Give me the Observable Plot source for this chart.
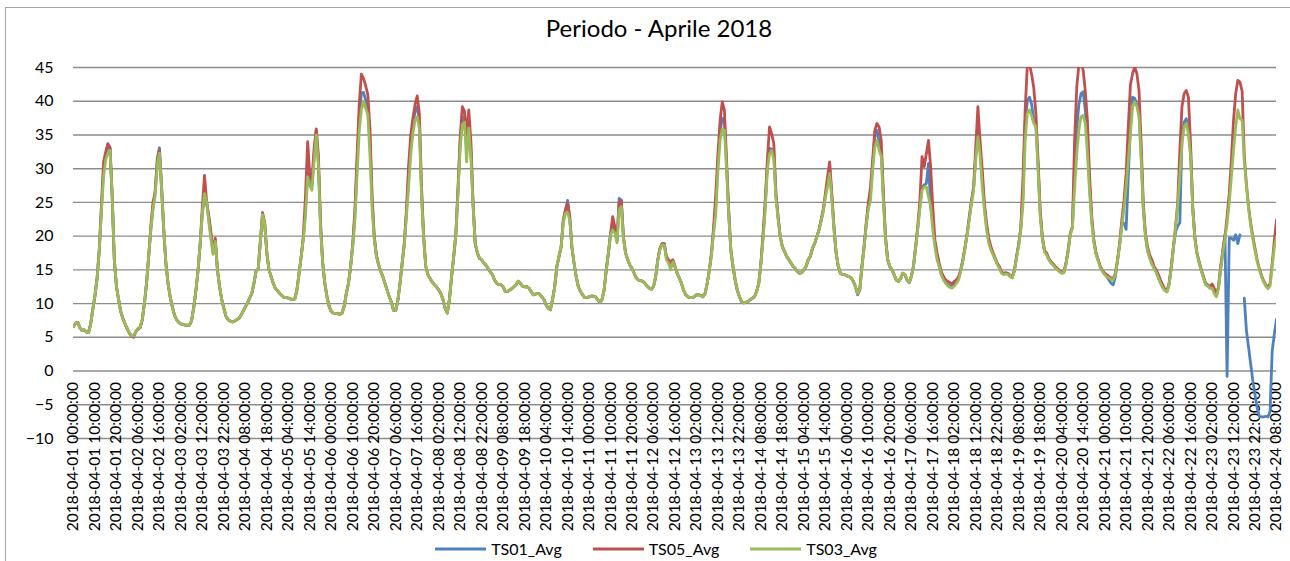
<!DOCTYPE html>
<html><head><meta charset="utf-8">
<script src="https://cdn.jsdelivr.net/npm/d3@7"></script>
<script src="https://cdn.jsdelivr.net/npm/@observablehq/plot@0.6"></script>
<style>
body{margin:0;background:#fff;font-family:Lato,"Open Sans",sans-serif;overflow:hidden;}
#frame{position:absolute;left:5px;top:7px;width:1300px;height:620px;border:1px solid #a6a6a6;box-sizing:border-box;}
#title{position:absolute;left:0;top:16px;width:1318px;text-align:center;font-size:24px;line-height:24px;color:#000;}
#chart{position:absolute;left:0;top:0;}
#legend{position:absolute;left:0;top:539px;width:1312px;display:flex;justify-content:center;gap:31px;font-size:16px;line-height:20px;color:#000;}
#legend .item{display:flex;align-items:center;gap:5px;}
</style></head>
<body>
<div id="frame"></div>
<div id="title">Periodo - Aprile 2018</div>
<div id="chart"></div>
<div id="legend"></div>
<script>
// hourly readings starting 2018-04-01 00:00:00 (UTC labels)
const startTime = "2018-04-01T00:00:00Z";
const seriesNames = ["TS01_Avg", "TS05_Avg", "TS03_Avg"];
const seriesColors = ["#4f81bd", "#c0504d", "#9bbb59"];
const yTicks = [-10, -5, 0, 5, 10, 15, 20, 25, 30, 35, 40, 45];

const TS05 = [
6.6,7.1,7.2,6.4,6.0,6.1,5.8,5.7,7.0,9.2,11.2,13.8,18.0,24.5,31.0,32.5,33.7,33.0,26.0,16.5,12.5,10.6,8.8,7.8,
7.0,6.3,5.6,5.2,5.0,5.8,6.2,6.4,7.6,10.0,13.0,17.0,21.5,25.0,26.5,31.0,32.8,27.0,21.0,16.0,13.0,11.0,9.5,8.3,
7.6,7.2,7.0,6.9,6.8,6.8,6.8,7.5,9.5,12.0,15.0,19.0,24.5,29.0,25.0,23.0,20.5,17.8,19.7,15.0,12.5,10.6,9.3,8.1,
7.6,7.4,7.3,7.4,7.6,7.8,8.3,8.9,9.5,10.1,10.8,11.5,13.0,14.8,15.2,19.4,23.5,22.0,17.5,15.0,14.0,13.0,12.2,11.9,
11.5,11.2,10.9,10.9,10.8,10.7,10.6,10.7,12.0,14.5,17.0,20.0,26.0,34.0,29.0,28.3,33.0,35.9,32.0,22.0,16.0,13.0,11.0,9.6,
8.8,8.6,8.5,8.5,8.4,8.6,9.6,11.5,13.0,15.5,18.9,24.0,32.0,39.5,44.0,43.4,42.3,41.0,36.0,26.0,20.0,17.2,15.8,14.8,
14.0,13.0,12.0,11.0,10.2,9.0,9.0,10.5,13.0,16.0,19.0,24.0,30.5,35.0,37.5,39.5,40.8,38.2,27.3,19.9,15.5,14.3,13.7,13.2,
12.8,12.5,12.0,11.5,10.6,9.3,8.6,10.6,14.0,17.0,20.4,27.3,34.7,39.2,38.5,35.0,38.7,34.0,24.9,18.9,17.5,16.7,16.5,16.0,
15.7,15.2,14.7,14.3,13.5,13.0,12.8,12.8,12.5,11.8,11.8,12.0,12.2,12.5,12.8,13.3,13.0,12.6,12.5,12.5,12.3,11.8,11.3,11.4,
11.5,11.4,11.0,10.6,9.8,9.3,9.1,10.6,12.5,15.5,17.0,18.4,22.4,23.9,24.9,22.9,18.4,16.0,14.0,12.5,11.8,11.3,10.9,10.9,
11.0,11.1,11.1,11.0,10.6,10.2,10.6,12.0,15.0,17.5,20.4,22.9,21.4,19.4,24.9,25.3,19.9,17.5,16.5,15.7,15.2,14.5,13.8,13.5,
13.4,13.3,13.0,12.6,12.3,12.1,12.5,14.0,16.5,18.2,18.9,18.9,17.0,16.5,16.2,16.5,15.5,14.5,13.8,13.0,12.0,11.3,11.0,10.9,
10.9,11.0,11.3,11.3,11.2,11.0,11.5,13.0,15.0,17.5,21.4,26.3,32.2,37.2,39.9,38.7,31.3,23.9,17.9,15.5,13.5,12.0,11.0,10.3,
10.1,10.2,10.3,10.6,10.8,11.0,11.8,13.0,16.0,20.4,25.3,31.3,36.2,35.2,33.7,26.3,22.9,19.9,18.4,17.7,17.0,16.5,16.0,15.5,
15.2,14.7,14.5,14.6,15.0,15.5,16.5,17.0,18.2,18.9,19.9,20.9,22.4,23.9,26.3,28.8,31.0,26.3,21.4,17.5,15.5,14.5,14.3,14.3,
14.1,14.0,13.8,13.3,12.5,11.5,12.0,15.5,18.4,21.9,24.9,27.3,31.3,35.7,36.7,36.2,34.2,26.3,19.9,16.5,15.5,15.0,14.3,13.5,
13.3,13.7,14.5,14.3,13.5,13.1,14.0,15.5,18.4,21.4,25.3,31.8,30.3,32.2,34.2,30.3,24.4,19.4,17.5,16.0,14.7,14.0,13.5,13.3,
13.1,12.9,13.3,13.5,14.0,15.0,16.5,18.4,20.4,22.9,25.3,27.3,33.2,39.2,34.2,30.0,25.0,22.0,19.8,18.5,17.6,16.8,16.0,15.5,
14.7,14.5,14.6,14.5,14.1,14.0,15.0,17.0,18.9,21.4,28.8,38.7,45.3,45.5,44.0,42.0,38.2,31.3,23.9,19.9,17.9,17.5,16.7,16.2,
15.9,15.5,15.2,14.9,14.6,14.7,16.0,17.9,20.4,21.4,34.0,42.0,45.4,45.6,44.6,41.5,37.0,28.8,22.9,19.4,17.5,16.5,15.5,14.9,
14.5,14.3,14.0,13.8,13.7,14.5,16.5,18.9,22.4,25.3,29.3,36.2,42.4,44.1,45.1,44.1,41.6,33.7,24.9,20.4,18.4,17.2,16.5,15.5,
15.0,14.3,13.5,12.8,12.1,11.9,13.0,15.5,18.4,21.4,24.9,32.7,39.2,41.1,41.6,40.6,33.7,24.4,19.9,17.5,16.2,15.0,14.0,13.0,
12.8,12.5,12.9,12.3,11.3,12.5,15.5,17.9,19.9,22.9,26.3,31.3,37.2,41.1,43.1,42.8,41.5,32.0,27.6,24.4,21.9,19.9,18.2,16.5,
15.2,14.2,13.4,12.8,12.4,13.0,16.0,19.4,22.4
];

const TS03 = [
6.6,7.1,7.2,6.4,6.0,6.1,5.8,5.7,7.0,9.2,11.2,13.8,18.0,23.5,28.8,31.3,32.3,32.7,26.0,16.5,12.5,10.6,8.8,7.8,
7.0,6.3,5.6,5.3,5.2,5.9,6.3,6.5,7.6,10.0,13.0,17.0,21.0,24.0,26.0,30.5,32.3,27.0,21.0,16.0,13.0,11.0,9.5,8.3,
7.6,7.2,7.0,6.9,6.8,6.8,6.8,7.5,9.5,12.0,15.0,19.0,23.5,26.3,25.0,22.0,19.5,17.3,19.2,15.0,12.5,10.6,9.3,8.1,
7.6,7.4,7.3,7.4,7.6,7.8,8.3,8.9,9.5,10.1,10.8,11.5,13.0,14.8,15.2,19.2,23.2,21.8,17.5,15.0,14.0,13.0,12.2,11.9,
11.5,11.2,10.9,10.9,10.8,10.7,10.6,10.7,12.0,14.5,17.0,19.6,23.0,28.8,27.5,26.8,31.0,35.0,30.5,21.0,16.0,13.0,11.0,9.6,
8.8,8.6,8.5,8.5,8.4,8.6,9.6,11.5,13.0,15.5,18.5,22.5,29.0,35.5,38.8,40.0,39.0,38.0,32.0,24.0,19.5,17.0,15.8,14.8,
14.0,13.0,12.0,11.0,10.2,9.0,9.0,10.5,13.0,16.0,18.8,23.0,27.3,32.2,35.2,37.2,37.7,36.0,26.0,19.5,15.5,14.3,13.7,13.2,
12.8,12.5,12.0,11.5,10.6,9.3,8.6,10.6,14.0,17.0,20.2,26.3,33.0,36.5,36.9,31.0,36.0,31.5,24.5,18.9,17.5,16.7,16.5,16.0,
15.7,15.2,14.7,14.3,13.5,13.0,12.8,12.8,12.5,11.8,11.8,12.0,12.2,12.5,12.8,13.3,13.0,12.6,12.5,12.5,12.3,11.8,11.3,11.4,
11.5,11.4,11.0,10.6,9.8,9.3,9.1,10.6,12.5,15.5,17.0,18.4,22.0,23.4,23.5,22.4,18.4,16.0,14.0,12.5,11.8,11.3,10.9,10.9,
11.0,11.1,11.1,11.0,10.6,10.2,10.6,12.0,15.0,17.5,20.2,20.9,20.5,19.0,23.9,24.4,19.6,17.5,16.5,15.7,15.2,14.5,13.8,13.5,
13.4,13.3,13.0,12.6,12.3,12.1,12.5,14.0,16.5,18.0,18.7,18.7,16.5,16.0,15.0,16.2,15.5,14.5,13.8,13.0,12.0,11.3,11.0,10.9,
10.9,11.0,11.3,11.3,11.2,11.0,11.5,13.0,15.0,17.3,20.5,23.4,29.8,34.2,35.9,35.7,30.0,23.0,17.9,15.5,13.5,12.0,11.0,10.3,
10.1,10.2,10.3,10.6,10.8,11.0,11.8,13.0,16.0,19.5,23.9,29.8,32.2,32.7,31.3,25.5,22.5,19.9,18.4,17.7,17.0,16.5,16.0,15.5,
15.2,14.7,14.5,14.6,15.0,15.5,16.5,17.0,18.2,18.9,19.9,20.9,22.2,23.6,25.8,27.3,29.3,25.5,21.0,17.5,15.5,14.5,14.3,14.3,
14.1,14.0,13.8,13.3,12.5,11.5,12.0,15.3,18.2,21.5,24.0,25.3,29.8,33.2,34.2,32.7,31.8,25.0,19.5,16.5,15.5,15.0,14.3,13.5,
13.3,13.7,14.5,14.3,13.5,13.1,14.0,15.5,18.2,21.0,24.0,26.8,27.3,27.3,25.8,24.4,20.9,18.4,16.5,15.5,14.2,13.5,13.0,12.6,
12.4,12.3,12.6,13.0,13.5,14.8,16.3,18.2,20.2,22.5,24.8,26.8,31.3,34.7,32.2,27.5,24.0,21.0,19.0,18.0,17.3,16.6,15.8,15.2,
14.5,14.3,14.4,14.3,14.0,13.8,14.8,16.8,18.6,21.0,24.9,34.2,38.2,38.7,37.9,36.7,36.2,29.8,23.0,19.6,17.7,17.2,16.5,16.0,
15.7,15.3,15.0,14.7,14.5,14.6,15.8,17.7,20.2,21.2,27.0,32.0,35.7,37.7,37.9,36.7,32.2,26.3,22.0,19.0,17.3,16.3,15.3,14.7,
14.3,14.0,13.8,13.6,13.5,14.3,16.3,18.7,21.4,24.0,27.3,31.3,35.2,39.2,39.9,39.2,37.7,31.3,24.0,20.0,17.8,16.7,15.8,15.2,
14.6,13.8,13.0,12.4,11.9,11.7,12.8,15.2,18.2,21.2,24.4,28.8,33.7,36.2,36.7,35.2,31.8,24.0,19.6,17.3,16.0,14.8,13.8,12.8,
12.6,12.3,12.3,11.5,11.0,12.3,15.0,17.5,19.5,21.9,24.9,28.8,32.7,36.2,38.7,37.4,37.2,31.0,27.6,24.0,21.5,19.5,17.8,16.2,
15.0,14.0,13.2,12.6,12.2,12.6,15.5,18.4,19.9
];

const TS01 = [
6.6,7.1,7.2,6.4,6.0,6.1,5.8,5.7,7.0,9.2,11.2,13.8,18.0,24.0,30.0,32.0,33.6,33.2,26.0,16.5,12.5,10.6,8.8,7.8,
7.0,6.3,5.6,5.3,5.2,5.9,6.3,6.5,7.6,10.0,13.0,17.0,21.0,24.2,26.5,31.5,33.1,27.5,21.0,16.0,13.0,11.0,9.5,8.3,
7.6,7.2,7.0,6.9,6.8,6.8,6.8,7.5,9.5,12.0,15.0,19.0,23.5,25.5,25.0,22.5,20.0,17.5,19.4,15.0,12.5,10.6,9.3,8.1,
7.6,7.4,7.3,7.4,7.6,7.8,8.3,8.9,9.5,10.1,10.8,11.5,13.0,14.8,15.2,19.2,23.2,21.8,17.5,15.0,14.0,13.0,12.2,11.9,
11.5,11.2,10.9,10.9,10.8,10.7,10.6,10.7,12.0,14.5,17.0,19.8,24.0,29.3,27.8,27.5,32.0,35.7,31.0,21.5,16.0,13.0,11.0,9.6,
8.8,8.6,8.5,8.5,8.4,8.6,9.6,11.5,13.0,15.5,18.7,23.0,30.5,37.5,41.2,41.3,40.2,39.0,34.0,25.0,19.8,17.1,15.8,14.8,
14.0,13.0,12.0,11.0,10.2,9.0,9.0,10.5,13.0,16.0,18.9,23.5,29.0,33.5,36.5,38.5,39.2,37.0,26.5,19.7,15.5,14.3,13.7,13.2,
12.8,12.5,12.0,11.5,10.6,9.3,8.6,10.6,14.0,17.0,20.3,26.8,34.0,37.7,37.5,33.0,37.0,32.5,24.7,18.9,17.5,16.7,16.5,16.0,
15.7,15.2,14.7,14.3,13.5,13.0,12.8,12.8,12.5,11.8,11.8,12.0,12.2,12.5,12.8,13.3,13.0,12.6,12.5,12.5,12.3,11.8,11.3,11.4,
11.5,11.4,11.0,10.6,9.8,9.3,9.1,10.6,12.5,15.5,17.0,18.4,22.3,23.8,25.3,22.7,18.4,16.0,14.0,12.5,11.8,11.3,10.9,10.9,
11.0,11.1,11.1,11.0,10.6,10.2,10.6,12.0,15.0,17.5,20.3,21.5,20.8,19.2,25.6,25.3,19.8,17.5,16.5,15.7,15.2,14.5,13.8,13.5,
13.4,13.3,13.0,12.6,12.3,12.1,12.5,14.0,16.5,18.2,18.9,18.9,16.8,16.3,15.8,16.4,15.5,14.5,13.8,13.0,12.0,11.3,11.0,10.9,
10.9,11.0,11.3,11.3,11.2,11.0,11.5,13.0,15.0,17.4,21.0,24.5,31.0,35.5,37.5,37.0,30.5,23.5,17.9,15.5,13.5,12.0,11.0,10.3,
10.1,10.2,10.3,10.6,10.8,11.0,11.8,13.0,16.0,20.0,24.5,30.5,33.0,32.9,32.0,26.0,22.7,19.9,18.4,17.7,17.0,16.5,16.0,15.5,
15.2,14.7,14.5,14.6,15.0,15.5,16.5,17.0,18.2,18.9,19.9,20.9,22.3,23.8,26.0,28.0,30.0,26.0,21.2,17.5,15.5,14.5,14.3,14.3,
14.1,14.0,13.8,13.3,12.5,11.3,12.0,15.4,18.3,21.7,24.5,26.3,30.5,34.7,35.7,34.0,33.0,26.0,19.7,16.5,15.5,15.0,14.3,13.5,
13.3,13.7,14.5,14.3,13.5,13.1,14.0,15.5,18.3,21.2,24.5,27.1,27.6,27.8,30.8,24.5,22.0,18.8,17.0,15.5,14.3,13.6,13.1,12.8,
12.6,12.5,12.8,13.2,13.7,14.9,16.4,18.3,20.3,22.7,25.0,27.0,32.0,36.0,33.0,28.5,24.5,21.5,19.4,18.2,17.4,16.7,15.9,15.3,
14.6,14.4,14.5,14.4,14.0,13.9,14.9,16.9,18.7,21.2,26.3,36.7,40.1,40.6,39.6,37.2,36.5,30.5,23.4,19.7,17.8,17.3,16.6,16.1,
15.8,15.4,15.1,14.8,14.5,14.6,15.9,17.8,20.3,21.3,30.0,36.0,39.5,41.1,41.4,38.7,34.0,27.5,22.4,19.2,17.4,16.4,15.4,14.8,
14.4,14.0,13.5,13.0,12.8,14.0,16.4,18.8,22.0,21.9,21.0,28.8,36.2,40.6,40.4,39.6,38.5,32.0,24.0,20.0,17.8,16.8,16.0,15.3,
14.7,13.9,13.1,12.5,12.0,11.8,12.9,15.3,18.3,20.6,21.5,22.0,34.7,36.9,37.4,35.7,32.5,24.2,19.7,17.4,16.1,14.9,13.9,12.9,
12.6,12.3,12.4,11.8,11.1,12.4,15.2,17.7,20.2,-0.8,19.7,19.7,19.4,20.2,18.9,20.2,null,10.8,6.0,3.5,1.0,-1.5,-3.5,-5.5,
-6.7,-6.8,-6.8,-6.7,-6.8,-6.0,3.0,5.5,7.7
];

const seriesValues = [TS01, TS05, TS03];
const t0 = new Date(startTime).getTime();
const times = TS05.map((_, i) => new Date(t0 + i * 3600e3));
const xTicks = d3.range(0, times.length, 10).map(i => times[i]);
const fmt = d3.utcFormat("%Y-%m-%d %H:%M:%S");

const marks = [
  Plot.gridY(yTicks, {stroke: "#8c8c8c", strokeOpacity: 1, strokeWidth: 1.4}),
  Plot.axisY(yTicks, {tickSize: 0, tickPadding: 20, fontSize: 16, label: null, fill: "#000"}),
  Plot.text(xTicks, {x: d => d, y: () => 0, text: d => fmt(d), rotate: -90, textAnchor: "end", dy: 11, fontSize: 15.5, fill: "#000"})
];
seriesValues.forEach((vals, k) => {
  const rows = vals.map((v, i) => ({t: times[i], v}));
  marks.push(Plot.line(rows, {x: "t", y: "v", stroke: seriesColors[k], strokeWidth: 2.8, clip: true}));
});

const chart = Plot.plot({
  width: 1290, height: 530,
  marginLeft: 73, marginRight: 14, marginTop: 67, marginBottom: 92,
  style: {background: "transparent", fontFamily: "Lato, 'Open Sans', sans-serif", overflow: "visible"},
  x: {type: "utc", domain: [times[0], times[times.length - 1]], axis: null},
  y: {domain: [-10, 45], axis: null},
  marks
});
document.getElementById("chart").appendChild(chart);

const legend = document.getElementById("legend");
seriesNames.forEach((name, k) => {
  const item = document.createElement("div");
  item.className = "item";
  item.innerHTML = `<svg width="51" height="6"><line x1="0" x2="51" y1="3" y2="3" stroke="${seriesColors[k]}" stroke-width="2.8"/></svg><span>${name}</span>`;
  legend.appendChild(item);
});
</script>
</body></html>
